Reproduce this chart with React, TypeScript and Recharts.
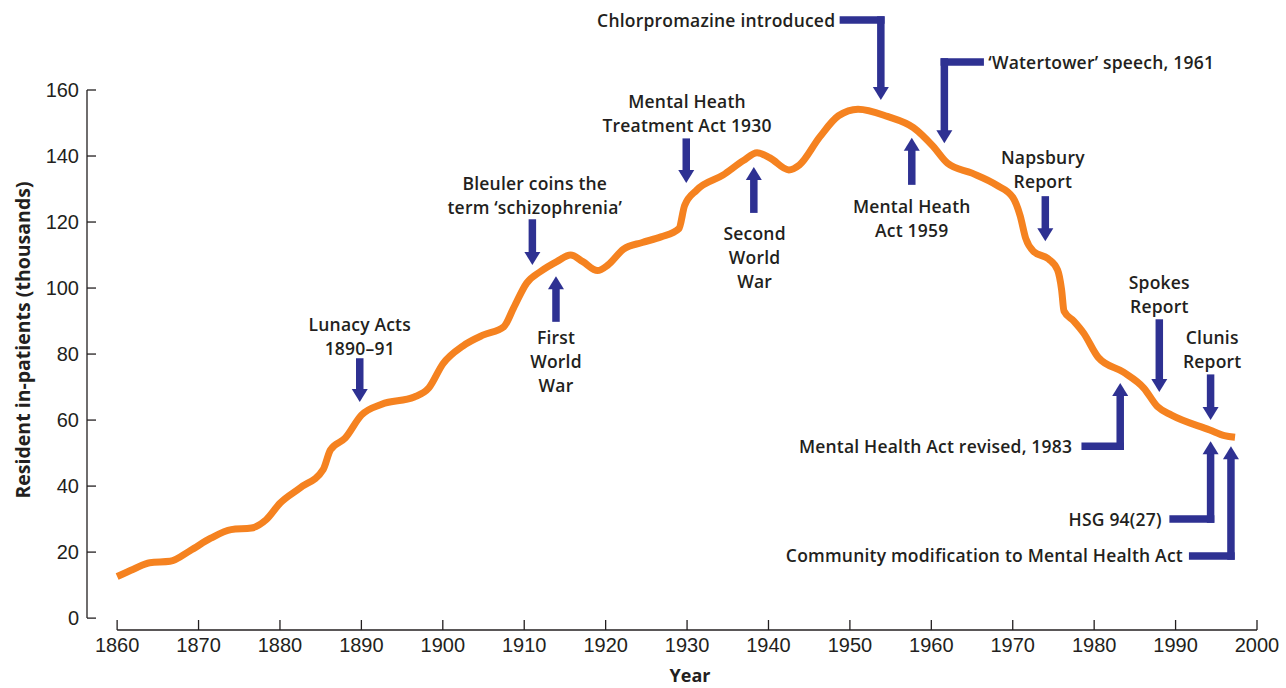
import React from 'react';
import { LineChart, Line, XAxis, YAxis, ReferenceLine, ReferenceDot } from 'recharts';

// resident in-patients (thousands) by year
const years = [
  1860, 1862, 1864, 1866.5, 1869, 1871.5, 1874, 1876.5, 1878.3, 1880, 1882.5, 1885.3, 1886.2, 1888,
  1890, 1892.5, 1896.5, 1898.3, 1900, 1902.5, 1905, 1907.5, 1908.7, 1910.3, 1912, 1914, 1915.7,
  1917.2, 1919, 1920.3, 1922.2, 1924.5, 1926.8, 1929, 1929.7, 1931.2, 1934.4, 1936.9, 1938.6,
  1940.2, 1942.5, 1943.8, 1946.3, 1948.6, 1951, 1954.6, 1957.8, 1960.2, 1962, 1965, 1968, 1970,
  1970.9, 1971.6, 1972.6, 1974.4, 1975.5, 1976, 1976.3, 1977.5, 1978.7, 1980.5, 1983.6, 1986.1,
  1987.8, 1989.5, 1994.2, 1996, 1997.3,
];
const patients = [
  12.6, 14.8, 16.8, 17.2, 20.5, 24.2, 26.8, 27.3, 29.8, 34.8, 39.5, 45, 51, 54.5,
  61.5, 64.8, 67, 69.8, 77, 82.5, 85.8, 88.3, 94, 101.5, 105, 108, 110,
  108, 105.3, 107, 111.8, 113.8, 115.5, 118, 125, 129.7, 134.2, 138.6, 141,
  139.4, 135.8, 137.3, 145.8, 152.2, 154.2, 152, 148.6, 143, 137.8, 134.8, 131.2, 127.5,
  122, 115, 111, 108.8, 105.5, 99.5, 93, 90, 86.4, 79, 74.5, 69.7,
  64, 61.5, 57, 55.3, 54.8,
];

const xTicks = [1860, 1870, 1880, 1890, 1900, 1910, 1920, 1930, 1940, 1950, 1960, 1970, 1980, 1990, 2000];
const yTicks = [0, 20, 40, 60, 80, 100, 120, 140, 160];

type Note = {
  lines: string[];
  x: number;
  tail: number;
  tip: number;
  textX: number;
  textY: number;
  anchor?: 'start' | 'middle' | 'end';
  barFrom?: number;
};

// events, in (year, value) terms
const notes: Note[] = [
  { lines: ['Lunacy Acts', '1890–91'], x: 1889.8, tail: 77.6, tip: 65.5, textX: 1889.8, textY: 89.1 },
  { lines: ['Bleuler coins the', 'term ‘schizophrenia’'], x: 1911, tail: 119.7, tip: 107, textX: 1911.3, textY: 131.8 },
  { lines: ['First', 'World', 'War'], x: 1913.9, tail: 90.9, tip: 103.6, textX: 1913.9, textY: 85.2 },
  { lines: ['Mental Heath', 'Treatment Act 1930'], x: 1929.9, tail: 144.2, tip: 131.8, textX: 1930, textY: 156.7 },
  { lines: ['Second', 'World', 'War'], x: 1938.2, tail: 123.9, tip: 136.7, textX: 1938.3, textY: 116.7 },
  { lines: ['Chlorpromazine introduced'], x: 1953.8, tail: 181.2, tip: 157, barFrom: 1949.2, textX: 1948.2, textY: 181.2, anchor: 'end' },
  { lines: ['‘Watertower’ speech, 1961'], x: 1961.6, tail: 168.5, tip: 143.9, barFrom: 1966, textX: 1967, textY: 168.5, anchor: 'start' },
  { lines: ['Mental Heath', 'Act 1959'], x: 1957.6, tail: 132.4, tip: 145.5, textX: 1957.6, textY: 124.8 },
  { lines: ['Napsbury', 'Report'], x: 1974, tail: 126.7, tip: 114.2, textX: 1973.7, textY: 139.7 },
  { lines: ['Spokes', 'Report'], x: 1988, tail: 89.4, tip: 68.5, textX: 1988, textY: 101.8 },
  { lines: ['Clunis', 'Report'], x: 1994.3, tail: 72.7, tip: 60, textX: 1994.5, textY: 85.2 },
  { lines: ['Mental Health Act revised, 1983'], x: 1983.2, tail: 52.1, tip: 71.2, barFrom: 1978.9, textX: 1977.3, textY: 52.1, anchor: 'end' },
  { lines: ['HSG 94(27)'], x: 1994.3, tail: 30, tip: 53.6, barFrom: 1989.7, textX: 1988.3, textY: 30, anchor: 'end' },
  { lines: ['Community modification to Mental Health Act'], x: 1996.8, tail: 18.8, tip: 52.1, barFrom: 1992.1, textX: 1990.9, textY: 19.1, anchor: 'end' },
];

const data = years.map((year, i) => ({ year, v: patients[i] }));

const X_MIN = 1856.3;
const Y_MIN = -3.6;
const ORANGE = '#f58220';
const NAVY = '#2e3192';
const INK = '#231f20';
const NOTE_FONT = '"Open Sans", "Noto Sans", sans-serif';
const LINE_H = 24;
const SHAFT = 7.5;
const HEAD_W = 16;
const HEAD_LEN = 13;

const arrowShape = (p: any) => {
  const { x1, y1, x2, y2 } = p;
  const dir = y2 > y1 ? 1 : -1;
  const base = y2 - dir * HEAD_LEN;
  return (
    <g>
      <line x1={x1} y1={y1} x2={x2} y2={base} stroke={NAVY} strokeWidth={SHAFT} strokeLinecap="square" />
      <path d={`M${x2 - HEAD_W / 2},${base} L${x2 + HEAD_W / 2},${base} L${x2},${y2} Z`} fill={NAVY} />
    </g>
  );
};

const textShape = (n: Note) => (p: any) => (
  <text
    x={p.cx}
    y={p.cy}
    textAnchor={n.anchor || 'middle'}
    dominantBaseline="central"
    fontFamily={NOTE_FONT}
    fontSize={17.5}
    fontWeight={600}
    letterSpacing={0.2}
    fill={INK}
  >
    {n.lines.map((l, i) => (
      <tspan key={i} x={p.cx} y={p.cy + i * LINE_H}>
        {l}
      </tspan>
    ))}
  </text>
);

const App = () => {
  return (
    <div style={{ position: 'absolute', left: 0, top: 0, width: 1286, height: 688, background: '#fff' }}>
      <LineChart width={1286} height={688} data={data} margin={{ top: 90, right: 29, bottom: 0, left: 0 }}>
        <XAxis
          type="number"
          dataKey="year"
          domain={[X_MIN, 2000]}
          ticks={xTicks}
          allowDataOverflow
          height={58}
          axisLine={false}
          tickSize={-10}
          tickMargin={18}
          tickLine={{ stroke: INK, strokeWidth: 1.3 }}
          tick={{ fill: INK, fontSize: 20, fontFamily: '"Liberation Sans", Arial, sans-serif' }}
          label={{
            content: (props: any) => {
              const vb = props.viewBox;
              return (
                <text x={vb.x + 603} y={vb.y + 45} textAnchor="middle" dominantBaseline="central"
                  fontFamily={NOTE_FONT} fontSize={18} fontWeight={700} fill={INK}>
                  Year
                </text>
              );
            },
          }}
        />
        <YAxis
          type="number"
          domain={[Y_MIN, 160]}
          ticks={yTicks}
          allowDataOverflow
          width={87}
          axisLine={false}
          tickSize={-9}
          tickMargin={17}
          tickLine={{ stroke: INK, strokeWidth: 1.3 }}
          tick={{ fill: INK, fontSize: 20, fontFamily: '"Liberation Sans", Arial, sans-serif' }}
          label={{
            content: (props: any) => {
              const vb = props.viewBox;
              const cx = vb.x + 22;
              const cy = vb.y + 250;
              return (
                <text x={cx} y={cy} transform={`rotate(-90 ${cx} ${cy})`} textAnchor="middle"
                  dominantBaseline="central" fontFamily={NOTE_FONT} fontSize={19.5} fontWeight={700} fill={INK}>
                  Resident in-patients (thousands)
                </text>
              );
            },
          }}
        />
        <ReferenceLine segment={[{ x: X_MIN, y: 0 }, { x: X_MIN, y: 160 }]} stroke={INK} strokeWidth={1.3} ifOverflow="visible" />
        <ReferenceLine segment={[{ x: 1860, y: Y_MIN }, { x: 2000, y: Y_MIN }]} stroke={INK} strokeWidth={1.3} ifOverflow="visible" />
        <Line
          type="monotone"
          dataKey="v"
          stroke={ORANGE}
          strokeWidth={7}
          strokeLinejoin="round"
          dot={false}
          activeDot={false}
          isAnimationActive={false}
        />
        {notes.map((n, i) =>
          n.barFrom !== undefined ? (
            <ReferenceLine
              key={`bar-${i}`}
              segment={[{ x: n.barFrom, y: n.tail }, { x: n.x, y: n.tail }]}
              stroke={NAVY}
              strokeWidth={SHAFT}
              strokeLinecap="square"
              ifOverflow="visible"
            />
          ) : null
        )}
        {notes.map((n, i) => (
          <ReferenceLine
            key={`arrow-${i}`}
            segment={[{ x: n.x, y: n.tail }, { x: n.x, y: n.tip }]}
            shape={arrowShape}
            ifOverflow="visible"
          />
        ))}
        {notes.map((n, i) => (
          <ReferenceDot key={`text-${i}`} x={n.textX} y={n.textY} r={0} ifOverflow="visible" shape={textShape(n)} />
        ))}
      </LineChart>
    </div>
  );
};

export default App;
